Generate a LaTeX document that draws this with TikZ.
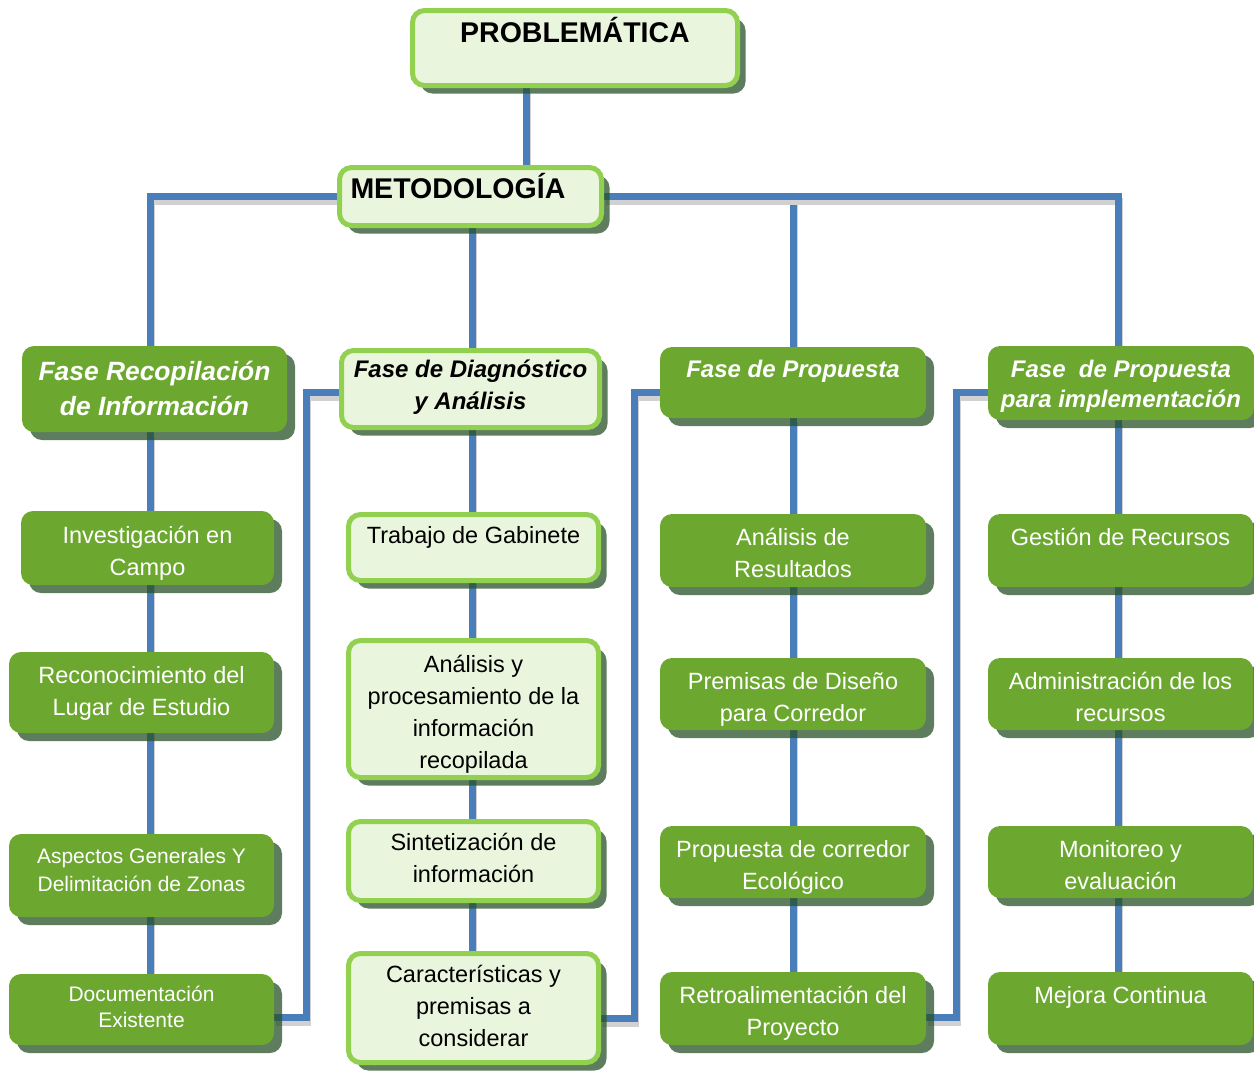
\documentclass[tikz,border=0pt]{standalone}
\usepackage{fontspec}
\setmainfont{Liberation Sans}
\usetikzlibrary{shadows,backgrounds}
\definecolor{linkblue}{HTML}{4A7EBB}
\definecolor{leafgreen}{HTML}{6CA830}
\definecolor{palegreen}{HTML}{EAF5DE}
\definecolor{rimgreen}{HTML}{92D050}
\definecolor{shadegreen}{HTML}{28512A}
% invisible strut that fixes the height of a first line
\newcommand{\liftto}[1]{\rule{0pt}{#1}}
\begin{document}
\begin{tikzpicture}[x=1pt,y=-1pt,
        link/.style={draw=linkblue, line width=7pt,
            preaction={draw=black!18, line width=7pt, transform canvas={shift={(1.5pt,-5pt)}}}},
        boxshade/.style={drop shadow={shadow xshift=8pt, shadow yshift=-8pt, fill=shadegreen, opacity=.75}},
        darkbox/.style={boxshade, rounded corners=12pt, fill=leafgreen, text=white, align=center, inner xsep=4pt, inner ysep=0pt},
        lightbox/.style={boxshade, rounded corners=12pt, draw=rimgreen, line width=5pt, fill=palegreen, text=black, align=center, inner xsep=4pt, inner ysep=0pt},
        wh/.style 2 args={minimum width=#1, minimum height=#2},
        nudge/.style={text depth=#1},
        body/.style={font=\fontsize{23.5}{32}\selectfont},
        phase/.style={font=\bfseries\itshape\fontsize{24}{32}\selectfont}]
        \useasboundingbox (0,0) rectangle (1254,1074);

        % Top of the tree
        \node[lightbox, wh={325pt}{75pt}, nudge=37.6pt, font=\bfseries\fontsize{28.5}{32}\selectfont] (prob) at (575,48) {\liftto{26pt}PROBLEMÁTICA};
        \node[lightbox, wh={262pt}{58pt}, nudge=23.1pt, font=\bfseries\fontsize{28.5}{32}\selectfont, align=left, text width=240pt] (met) at (470.5,196.5) {\liftto{26.5pt}METODOLOGÍA};

        % Phases
        \node[darkbox, wh={265pt}{86pt}, nudge=2.2pt, font=\bfseries\itshape\fontsize{26.4}{35}\selectfont] (rec) at (154.5,389) {\liftto{20pt}Fase Recopilación\\de Información};
        \node[lightbox, wh={258pt}{77pt}, phase, nudge=9.3pt] (diag) at (470.5,389) {\liftto{18.5pt}Fase de Diagnóstico\\y Análisis};
        \node[darkbox, wh={266pt}{71pt}, phase, nudge=28.3pt] (prop) at (793,382.5) {\liftto{18.5pt}Fase de Propuesta};
        \node[darkbox, wh={266pt}{74pt}, nudge=0.3pt, font=\bfseries\itshape\fontsize{24}{30}\selectfont] (impl) at (1121,383) {\liftto{19.5pt}Fase\ \ de Propuesta\\para implementación};

        % Column 1
        \node[darkbox, wh={253pt}{74pt}, body, nudge=0.4pt] (campo) at (147.5,548) {\liftto{23pt}Investigación en\\Campo};
        \node[darkbox, wh={265pt}{81pt}, body, nudge=8.4pt] (lugar) at (141.5,692.5) {\liftto{22pt}Reconocimiento del\\Lugar de Estudio};
        \node[darkbox, wh={265pt}{83pt}, nudge=12pt, font=\fontsize{21}{28}\selectfont] (zonas) at (141.5,875.5) {\liftto{16pt}Aspectos Generales Y\\Delimitación de Zonas};
        \node[darkbox, wh={265pt}{71pt}, nudge=6pt, font=\fontsize{21}{26}\selectfont] (docu) at (141.5,1009.5) {\liftto{16pt}Documentación\\Existente};

        % Column 2
        \node[lightbox, wh={250pt}{66pt}, body, nudge=30.4pt] (gabi) at (473.5,547.5) {\liftto{22pt}Trabajo de Gabinete};
        \node[lightbox, wh={250pt}{137pt}, body, nudge=0.4pt] (proc) at (473.5,709) {\liftto{23pt}Análisis y\\procesamiento de la\\información\\recopilada};
        \node[lightbox, wh={250pt}{79pt}, body, nudge=11.4pt] (sint) at (473.5,861) {\liftto{22pt}Sintetización de\\información};
        \node[lightbox, wh={250pt}{109pt}, body, nudge=9.4pt] (carac) at (473.5,1008) {\liftto{22pt}Características y\\premisas a\\considerar};

        % Column 3
        \node[darkbox, wh={266pt}{73pt}, body, nudge=0.4pt] (resul) at (793,550.5) {\liftto{22pt}Análisis de\\Resultados};
        \node[darkbox, wh={266pt}{72pt}, body, nudge=0.4pt] (disen) at (793,694) {\liftto{23pt}Premisas de Diseño\\para Corredor};
        \node[darkbox, wh={266pt}{72pt}, body, nudge=0.4pt] (corre) at (793,862) {\liftto{23pt}Propuesta de corredor\\Ecológico};
        \node[darkbox, wh={266pt}{73pt}, body, nudge=0.4pt] (retro) at (793,1008.5) {\liftto{22pt}Retroalimentación del\\Proyecto};

        % Column 4
        \node[darkbox, wh={265pt}{73pt}, body, nudge=32.4pt] (gest) at (1120.5,550.5) {\liftto{22pt}Gestión de Recursos};
        \node[darkbox, wh={265pt}{72pt}, body, nudge=0.4pt] (admin) at (1120.5,694) {\liftto{23pt}Administración de los\\recursos};
        \node[darkbox, wh={265pt}{72pt}, body, nudge=0.4pt] (moni) at (1120.5,862) {\liftto{23pt}Monitoreo y\\evaluación};
        \node[darkbox, wh={265pt}{73pt}, body, nudge=32.4pt] (mejora) at (1120.5,1008.5) {\liftto{22pt}Mejora Continua};

        % Connectors behind the boxes
        \begin{scope}[on background layer]
            \draw[link] ([xshift=-49pt]prob.south) -- ([xshift=-49pt]prob.south |- met.north);
            \draw[link] ([xshift=-4.5pt]rec.north) |- (met.west);
            \draw[link] (met.east) -| (prop.north);
            \draw[link] (met.east) -| ([xshift=-3pt]impl.north);
            \draw[link] ([xshift=1.5pt]met.south) -- ([xshift=1.5pt]diag.north);

            % Column spines
            \draw[link] ([xshift=-4.5pt]rec.south) -- ([xshift=-4.5pt]rec.south |- docu.north);
            \draw[link] ([xshift=1.5pt]diag.south) -- ([xshift=1.5pt]diag.south |- carac.north);
            \draw[link] (prop.south) -- (prop.south |- retro.north);
            \draw[link] ([xshift=-3pt]impl.south) -- ([xshift=-3pt]impl.south |- mejora.north);

            % Links from the last step to the next phase
            \draw[link] ([yshift=-8pt]docu.east) -- ++(32pt,0) |- ([yshift=-3pt]diag.west);
            \draw[link] ([yshift=-10pt]carac.east) -- ++(33pt,0) |- ([yshift=-10pt]prop.west);
            \draw[link] ([yshift=-9pt]retro.east) -- ++(30pt,0) |- ([yshift=-9pt]impl.west);
        \end{scope}
    \end{tikzpicture}
\end{document}
